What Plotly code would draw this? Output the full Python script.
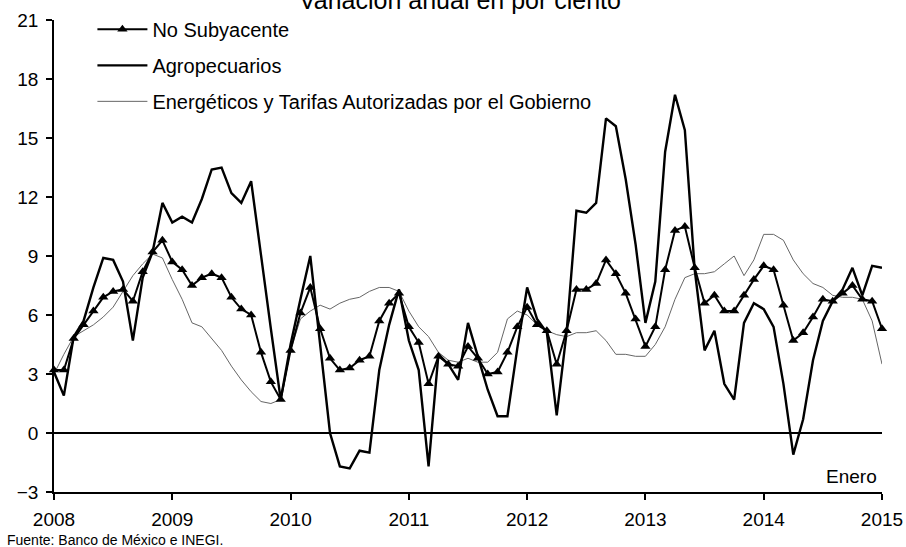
import plotly.graph_objects as go

# ---- data (annual % change, monthly Jan-2008 .. Jan-2015) ----
start_year = 2008
no_subyacente = [
    3.2, 3.2, 4.8, 5.5, 6.2, 6.9, 7.2, 7.3, 6.7, 8.2, 9.2, 9.8,
    8.7, 8.3, 7.5, 7.9, 8.1, 7.9, 6.9, 6.3, 6.0, 4.1, 2.6, 1.7,
    4.2, 6.1, 7.4, 5.3, 3.8, 3.2, 3.3, 3.7, 3.9, 5.7, 6.6, 7.1,
    5.4, 4.6, 2.5, 3.9, 3.5, 3.4, 4.4, 3.8, 3.0, 3.1, 4.1, 5.4,
    6.4, 5.5, 5.2, 3.5, 5.2, 7.3, 7.3, 7.6, 8.8, 8.1, 7.1, 5.8,
    4.4, 5.4, 8.3, 10.3, 10.5, 8.4, 6.6, 7.0, 6.2, 6.2, 7.0, 7.8,
    8.5, 8.3, 6.5, 4.7, 5.1, 5.9, 6.8, 6.7, 7.1, 7.5, 6.8, 6.7,
    5.3,
]
agropecuarios = [
    3.1, 1.9, 4.9, 5.7, 7.4, 8.9, 8.8, 7.7, 4.7, 7.9, 9.2, 11.7,
    10.7, 11.0, 10.7, 11.9, 13.4, 13.5, 12.2, 11.7, 12.8, 9.0, 5.3, 1.7,
    4.5, 6.8, 9.0, 4.5, 0.0, -1.7, -1.8, -0.9, -1.0, 3.2, 5.5, 7.3,
    4.7, 3.2, -1.7, 4.0, 3.5, 2.7, 5.6, 3.9, 2.2, 0.85, 0.85, 4.3,
    7.4, 5.8, 5.1, 0.9, 5.1, 11.3, 11.2, 11.7, 16.0, 15.6, 12.9, 9.6,
    5.6, 7.7, 14.3, 17.2, 15.4, 8.3, 4.2, 5.2, 2.5, 1.7, 5.6, 6.6,
    6.3, 5.4, 2.5, -1.1, 0.7, 3.7, 5.7, 6.7, 7.3, 8.4, 7.0, 8.5,
    8.4,
]
energeticos = [
    3.0, 4.0, 4.9, 5.2, 5.5, 5.9, 6.4, 7.2, 8.0, 8.6, 9.1, 8.9,
    7.8, 6.8, 5.6, 5.4, 4.8, 4.2, 3.4, 2.7, 2.1, 1.6, 1.5, 1.7,
    4.2, 5.8, 6.2, 6.5, 6.3, 6.6, 6.8, 6.9, 7.2, 7.4, 7.4, 7.2,
    6.2, 5.4, 4.9, 4.1, 3.7, 3.6, 3.8, 3.6, 3.6, 4.1, 5.8, 6.2,
    6.0, 5.5, 5.2, 5.0, 4.9, 5.1, 5.1, 5.2, 4.7, 4.0, 4.0, 3.9,
    3.9, 4.5, 5.4, 6.8, 7.9, 8.1, 8.1, 8.2, 8.6, 9.0, 8.0, 8.8,
    10.1, 10.1, 9.8, 8.8, 8.1, 7.6, 7.4, 7.0, 6.9, 6.9, 6.8, 5.7,
    3.5,
]
year_ticks = [2008, 2009, 2010, 2011, 2012, 2013, 2014, 2015]
year_labels = ["2008", "2009", "2010", "2011", "2012", "2013", "2014", "2015"]
y_ticks = [-3, 0, 3, 6, 9, 12, 15, 18, 21]

months = [start_year + i / 12 for i in range(len(no_subyacente))]

FONT = "Liberation Sans, Arial, sans-serif"

fig = go.Figure()
fig.add_trace(go.Scatter(
    x=months, y=energeticos, mode="lines",
    name="Energéticos y Tarifas Autorizadas por el Gobierno",
    line=dict(color="#666666", width=1),
    legendrank=3, legendgroup="c",
))
fig.add_trace(go.Scatter(
    x=months, y=agropecuarios, mode="lines", name="Agropecuarios",
    line=dict(color="black", width=2.4),
    legendrank=2, legendgroup="b",
))
fig.add_trace(go.Scatter(
    x=months, y=no_subyacente, mode="lines+markers", name="No Subyacente",
    line=dict(color="black", width=2),
    marker=dict(symbol="triangle-up", size=9, color="black"),
    legendrank=1, legendgroup="a", cliponaxis=False,
))

fig.update_layout(
    width=906, height=547,
    margin=dict(l=54, r=24, t=20, b=55, autoexpand=False),
    paper_bgcolor="white", plot_bgcolor="white",
    font=dict(family=FONT, color="black", size=19),
    showlegend=True,
    legend=dict(
        xref="container", yref="container",
        x=0.102, y=0.982, xanchor="left", yanchor="top",
        font=dict(size=20, family=FONT),
        bgcolor="rgba(0,0,0,0)", borderwidth=0,
        traceorder="grouped", tracegroupgap=7,
        itemwidth=50,
    ),
    xaxis=dict(
        range=[year_ticks[0], year_ticks[-1]],
        tickvals=year_ticks, ticktext=year_labels,
        showline=True, linecolor="black", linewidth=1.5,
        ticks="outside", ticklen=6, tickcolor="black", tickwidth=1.5,
        ticklabelstandoff=3,
        showgrid=False, zeroline=False, automargin=False,
        tickfont=dict(size=19, family=FONT),
    ),
    yaxis=dict(
        range=[y_ticks[0], y_ticks[-1]],
        tickvals=y_ticks,
        showline=True, linecolor="black", linewidth=1.5,
        ticks="outside", ticklen=6, tickcolor="black", tickwidth=1.5,
        ticklabelstandoff=4,
        showgrid=False, automargin=False,
        zeroline=True, zerolinecolor="black", zerolinewidth=2,
        tickfont=dict(size=19, family=FONT),
    ),
    annotations=[
        dict(text="Variación anual en por ciento", xref="paper", yref="paper",
             x=0.49, y=1.0424, xanchor="center", yanchor="middle",
             showarrow=False, font=dict(size=25, family=FONT)),
        dict(text="Enero", xref="x", yref="y", x=year_ticks[-1], y=-2.2,
             xanchor="right", yanchor="middle", xshift=-3,
             showarrow=False, font=dict(size=19, family=FONT)),
        dict(text="Fuente: Banco de México e INEGI.", xref="paper", yref="paper",
             x=-0.059, y=-0.1017, xanchor="left", yanchor="middle",
             showarrow=False, font=dict(size=14, family=FONT)),
    ],
)

fig.write_html("out.html", config={"displayModeBar": False},
               post_script="document.body.style.margin='0';")
